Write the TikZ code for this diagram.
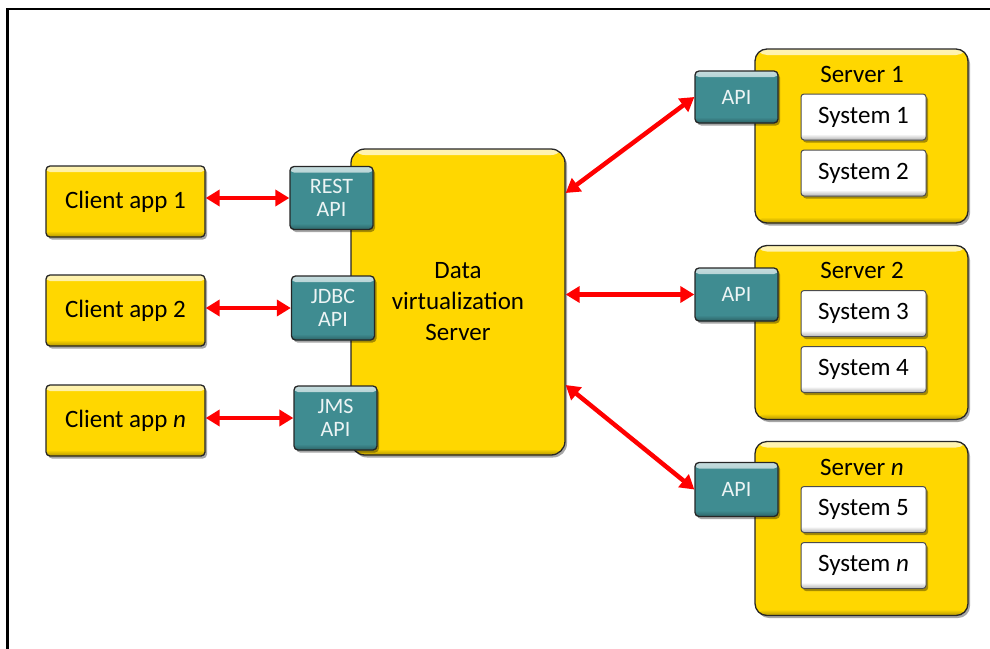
\documentclass[tikz,border=0pt]{standalone}
\usepackage{fontspec}
\setmainfont{Carlito}
\usetikzlibrary{arrows.meta,shadows}

\definecolor{boxyellow}{HTML}{FFD700}
\definecolor{apiteal}{HTML}{3F8C91}
\definecolor{linkred}{HTML}{FF0000}

\tikzset{
  % light top edge and darker bottom edge give the raised look
  bevel/.style={path picture={
      \fill[top color=#1!30!white,bottom color=#1]
        (path picture bounding box.north west) rectangle
        ([yshift=-6pt]path picture bounding box.north east);
      \fill[top color=#1,bottom color=#1!70!black]
        ([yshift=6pt]path picture bounding box.south west) rectangle
        (path picture bounding box.south east);
  }},
  raised/.style={drop shadow={shadow xshift=2pt,shadow yshift=-2.5pt,fill=black,opacity=0.35}},
  bigtext/.style={font=\fontsize{25}{31}\selectfont},
  yellowbox/.style={draw=black!85,line width=1.3pt,fill=boxyellow,bevel=boxyellow,
    raised,bigtext,align=center,inner sep=0pt},
  client/.style={yellowbox,rounded corners=4pt,minimum width=159pt,minimum height=71pt},
  hub/.style={yellowbox,rounded corners=14pt,minimum width=214pt,minimum height=306pt},
  server/.style={yellowbox,rounded corners=12pt,minimum width=213pt,minimum height=174pt},
  api/.style={draw=black!85,line width=1.3pt,fill=apiteal,bevel=apiteal,raised,
    rounded corners=4pt,text=white!90!apiteal,font=\fontsize{22}{23}\selectfont,
    align=center,inner sep=0pt,minimum width=83pt},
  sysbox/.style={draw=black!70,line width=1pt,fill=white,bevel=white,raised,
    rounded corners=3pt,bigtext,inner sep=0pt,minimum width=125pt,minimum height=46pt},
  label/.style={bigtext,anchor=base,inner sep=0pt},
  link/.style={draw=linkred,line width=4.5pt,>={Triangle[length=14pt,width=16pt]},<->},
}

\begin{document}
\begin{tikzpicture}[x=1pt,y=-1pt]
  \useasboundingbox (0,0) rectangle (990,648);
  \clip (0,0) rectangle (990,648);

  % outer frame (continues past the right and bottom edges)
  \draw[line width=2.5pt] (7.5,700) -- (7.5,9) -- (1050,9);

  % client applications
  \node[client] (c1) at (125.5,201.5) {Client app 1};
  \node[client] (c2) at (125.5,310.5) {Client app 2};
  \node[client] (cn) at (125.5,420.5) {Client app \textit{n}};

  % data virtualization server and its front-end APIs
  \node[hub] (dv) at (458,302) {Data\\virtualization\\Server};
  \node[api,minimum height=63pt] (rest) at (331.5,198) {REST\\API};
  \node[api,minimum height=64pt] (jdbc) at (333,308) {JDBC\\API};
  \node[api,minimum height=64pt] (jms)  at (335.5,418) {JMS\\API};

  % back-end servers
  \node[server] (s1) at (861.5,136) {};
  \node[label] (s1l) at (862,82) {Server 1};
  \node[sysbox] (sys1) at (863.5,117) {System 1};
  \node[sysbox] (sys2) at (863.5,173) {System 2};
  \node[api,minimum height=52pt] (a1) at (736.5,97) {API};

  \node[server] (s2) at (861.5,332.5) {};
  \node[label] (s2l) at (862,278.5) {Server 2};
  \node[sysbox] (sys3) at (863.5,313.5) {System 3};
  \node[sysbox] (sys4) at (863.5,369.5) {System 4};
  \node[api,minimum height=53pt] (a2) at (736.5,294.5) {API};

  \node[server] (sn) at (861.5,528.5) {};
  \node[label] (snl) at (862,475) {Server \textit{n}};
  \node[sysbox] (sys5) at (863.5,509.5) {System 5};
  \node[sysbox] (sysn) at (863.5,565.5) {System \textit{n}};
  \node[api,minimum height=54pt] (an) at (736.5,489.5) {API};

  % connections
  \draw[link] (c1.east |- rest.west) -- (rest.west);
  \draw[link] (c2.east |- jdbc.west) -- (jdbc.west);
  \draw[link] (cn.east |- jms.west) -- (jms.west);

  \draw[link] ([yshift=109pt]dv.east) -- (a1.west);
  \draw[link] (dv.east |- a2.west) -- (a2.west);
  \draw[link] ([yshift=-83pt]dv.east) -- (an.west);
\end{tikzpicture}
\end{document}
